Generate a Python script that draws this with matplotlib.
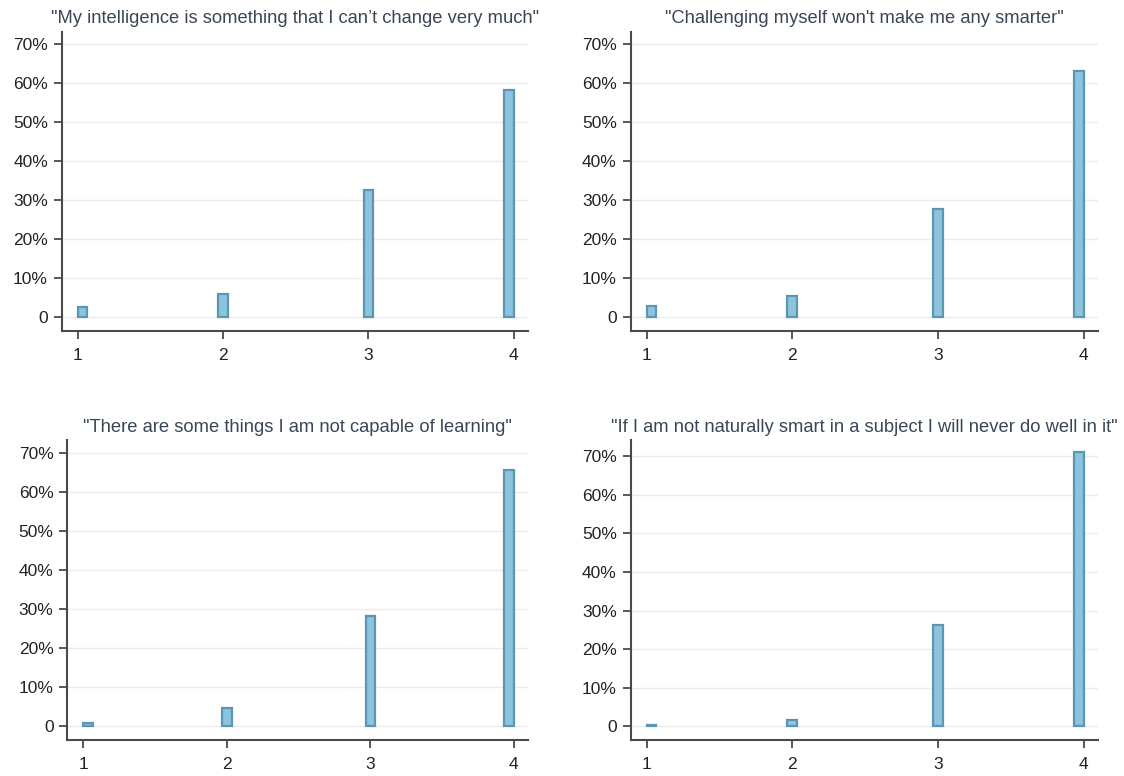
import numpy as np
import matplotlib.pyplot as plt

plt.rcParams['font.family'] = ['Liberation Sans', 'DejaVu Sans']

# survey answers 1-4, share of respondents (%)
answers = [1, 2, 3, 4]
titles = [
    '"My intelligence is something that I can\u2019t change very much"',
    '"Challenging myself won\'t make me any smarter"',
    '"There are some things I am not capable of learning"',
    '"If I am not naturally smart in a subject I will never do well in it"',
]
share_intelligence = [2.6, 6.0, 32.7, 58.3]
share_challenging = [2.9, 5.5, 27.8, 63.2]
share_capable = [0.9, 4.6, 28.3, 65.4]
share_natural = [0.4, 1.6, 26.4, 71.0]
shares = [share_intelligence, share_challenging, share_capable, share_natural]
ytick_vals = [0, 10, 20, 30, 40, 50, 60, 70]
ytick_labels = ['0', '10%', '20%', '30%', '40%', '50%', '60%', '70%']

fill = '#8cc3de'
edge = '#5b97b2'
axis_col = '#4a4a4a'
grid_col = '#ebebeb'
title_col = '#3a4658'

fig = plt.figure(figsize=(11.24, 7.76), dpi=100)
positions = [
    [0.055, 0.573, 0.415, 0.386],
    [0.561, 0.573, 0.416, 0.386],
    [0.060, 0.046, 0.410, 0.387],
    [0.561, 0.046, 0.416, 0.387],
]

bw = 3 / 45  # histogram-style bin width
for pos, title, vals in zip(positions, titles, shares):
    ax = fig.add_axes(pos)
    x = np.array(answers, dtype=float)
    left = np.clip(x - bw / 2, 1, 4 - bw)
    ax.bar(left, vals, width=bw, align='edge', color=fill,
           edgecolor=edge, linewidth=1.6, zorder=3)
    ax.set_xlim(0.89, 4.1)
    top = max(70, max(vals))
    ax.set_ylim(-3.6, top + 3.2)
    ax.set_xticks(answers)
    ax.set_yticks(ytick_vals)
    ax.set_yticklabels(ytick_labels)
    ax.grid(axis='y', color=grid_col, linewidth=1.0, zorder=0)
    ax.set_axisbelow(True)
    for s in ['top', 'right']:
        ax.spines[s].set_visible(False)
    for s in ['left', 'bottom']:
        ax.spines[s].set_color(axis_col)
        ax.spines[s].set_linewidth(1.5)
    ax.tick_params(axis='both', colors=axis_col, width=1.3, length=6,
                   labelsize=12.5, labelcolor='#222222', pad=4)
    ax.tick_params(axis='x', pad=6)
    ax.set_title(title, fontsize=13.2, color=title_col, pad=6)

fig.savefig('out.png', dpi=100, facecolor='white')
